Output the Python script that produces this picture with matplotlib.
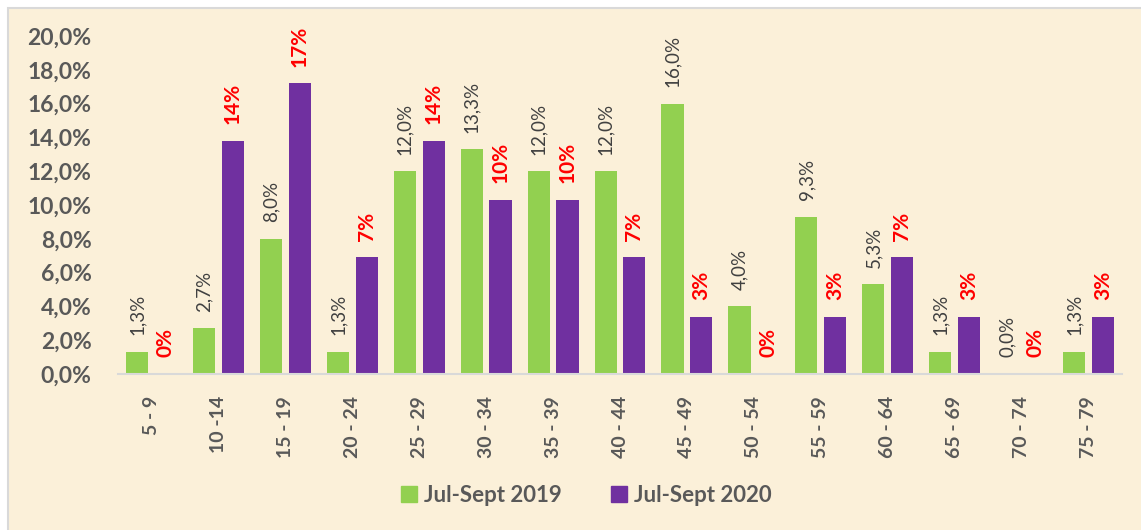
import numpy as np
import matplotlib
matplotlib.use("Agg")
import matplotlib.pyplot as plt
from matplotlib.patches import Rectangle, Patch

plt.rcParams['font.family'] = ['Lato', 'DejaVu Sans']

# Data
age_groups = ["5 - 9", "10 -14", "15 - 19", "20 - 24", "25 - 29", "30 - 34", "35 - 39",
              "40 - 44", "45 - 49", "50 - 54", "55 - 59", "60 - 64", "65 - 69", "70 - 74", "75 - 79"]
share_2019 = [1.3, 2.7, 8.0, 1.3, 12.0, 13.3, 12.0, 12.0, 16.0, 4.0, 9.3, 5.3, 1.3, 0.0, 1.3]
share_2020 = [0.0, 13.8, 17.2, 6.9, 13.8, 10.3, 10.3, 6.9, 3.4, 0.0, 3.4, 6.9, 3.4, 0.0, 3.4]
y_ticks = [0, 2, 4, 6, 8, 10, 12, 14, 16, 18, 20]

green = "#92D050"
purple = "#7030A0"
text_gray = "#595959"
bg = "#FBF0D9"

W, H = 1141, 530
fig = plt.figure(figsize=(W / 100, H / 100), dpi=100)
fig.patch.set_facecolor("white")

# chart area with thin gray border
fig.patches.append(Rectangle((8 / W, -0.05), 1.1, 1 - 8 / H + 0.05, transform=fig.transFigure,
                             facecolor=bg, edgecolor="#D9D9D9", linewidth=1.5, zorder=-10))

ax = fig.add_axes([118 / W, 1 - 374 / H, (1122 - 118) / W, (374 - 36) / H])
ax.set_facecolor("none")

x = np.arange(len(age_groups))
w = 0.33
bars1 = ax.bar(x - 0.215, share_2019, w, color=green, label="Jul-Sept 2019", zorder=2)
bars2 = ax.bar(x + 0.215, share_2020, w, color=purple, label="Jul-Sept 2020", zorder=2)

# data labels
for b, v in zip(bars1, share_2019):
    ax.annotate(f"{v:.1f}%".replace(".", ","), (b.get_x() + b.get_width() / 2, v),
                xytext=(0, 12), textcoords="offset points", rotation=90,
                ha="center", va="bottom", fontsize=13.5, color="#404040")
for b, v in zip(bars2, share_2020):
    ax.annotate(f"{v:.0f}%", (b.get_x() + b.get_width() / 2, v),
                xytext=(0, 12), textcoords="offset points", rotation=90,
                ha="center", va="bottom", fontsize=15, color="red", fontweight="bold")

ax.set_xlim(-0.5, len(age_groups) - 0.5)
ax.set_ylim(0, 20)
ax.set_yticks(y_ticks)
ax.set_yticklabels([f"{t:.1f}%".replace(".", ",") for t in y_ticks],
                   fontsize=16.5, fontweight="bold", color=text_gray)
ax.set_xticks(x)
ax.set_xticklabels(age_groups, rotation=90, fontsize=14, fontweight="bold", color=text_gray)
ax.tick_params(axis="both", length=0)
ax.tick_params(axis="x", pad=16)
ax.tick_params(axis="y", pad=19)

for s in ["top", "right", "left"]:
    ax.spines[s].set_visible(False)
ax.spines["bottom"].set_color("#D9D9D9")
ax.spines["bottom"].set_linewidth(1.5)

handles = [Patch(color=green), Patch(color=purple)]
fig.legend(handles, ["Jul-Sept 2019", "Jul-Sept 2020"], loc="center", bbox_to_anchor=(586 / W, 1 - 495 / H),
           ncol=2, frameon=False, handlelength=0.75, handleheight=0.75, handletextpad=0.3,
           columnspacing=2.2, prop={"size": 16, "weight": "bold"}, labelcolor=text_gray)

fig.savefig("out.png", dpi=100)
